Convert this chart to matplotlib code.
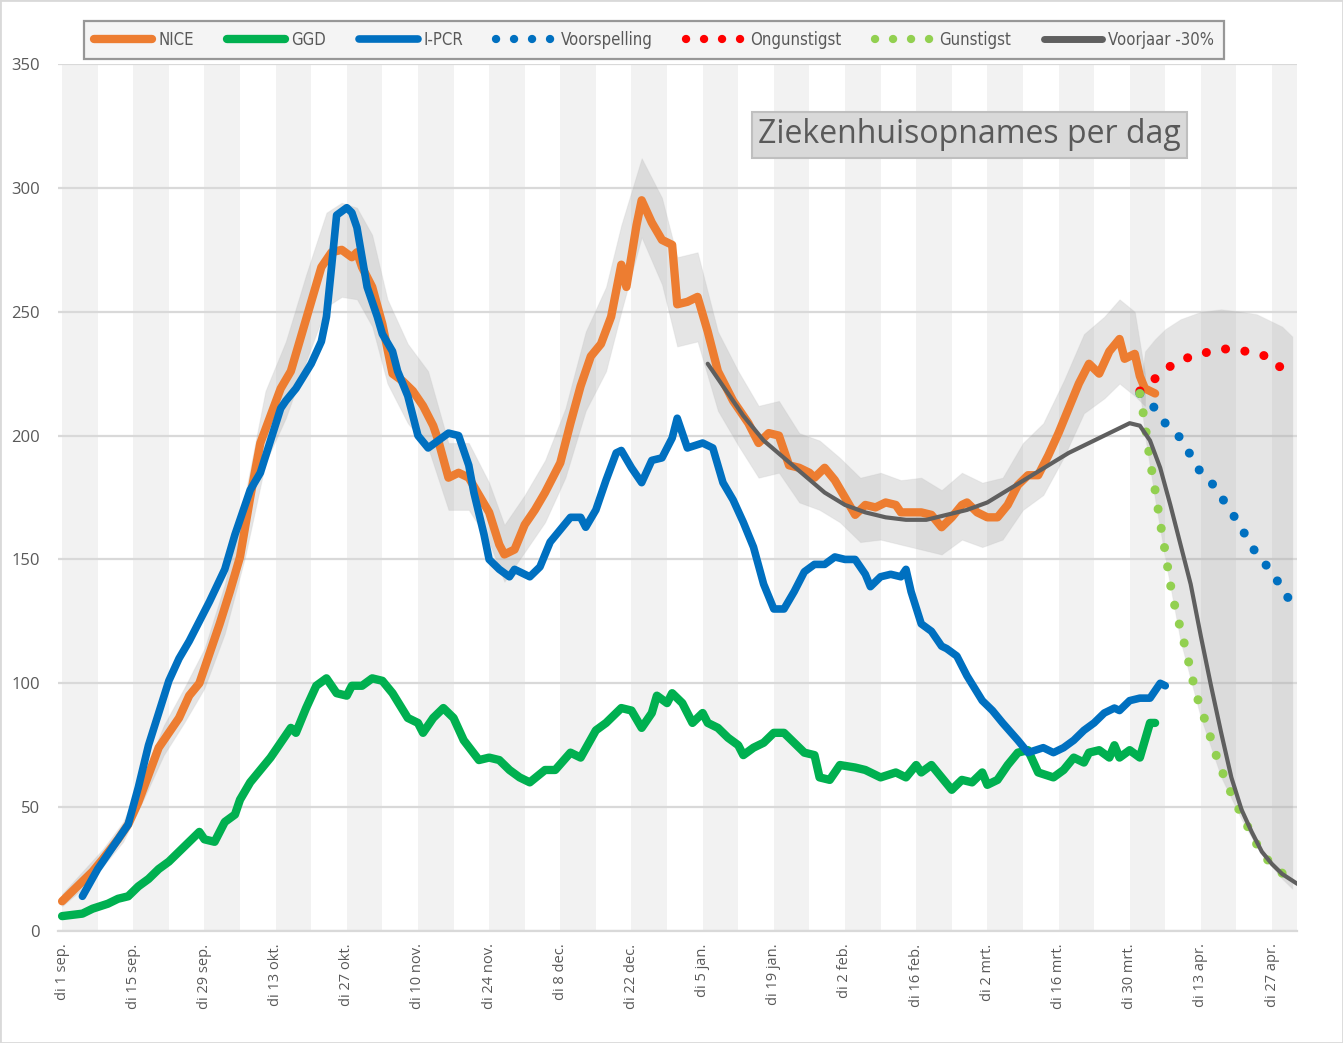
import numpy as np
import matplotlib.pyplot as plt
from matplotlib.lines import Line2D
from matplotlib.patches import Rectangle

# x = days since di 1 sep. 2020
tick_days = [0, 14, 28, 42, 56, 70, 84, 98, 112, 126, 140, 154, 168, 182, 196, 210, 224, 238]
tick_labels = ['di 1 sep.', 'di 15 sep.', 'di 29 sep.', 'di 13 okt.', 'di 27 okt.', 'di 10 nov.',
               'di 24 nov.', 'di 8 dec.', 'di 22 dec.', 'di 5 jan.', 'di 19 jan.', 'di 2 feb.',
               'di 16 feb.', 'di 2 mrt.', 'di 16 mrt.', 'di 30 mrt.', 'di 13 apr.', 'di 27 apr.']

# NICE opnames
nice_day = [0, 3, 6, 8, 11, 13, 15, 17, 19, 21, 23, 25, 27, 29, 31, 33, 35, 37, 39, 41,
            43, 45, 47, 49, 51, 53, 55, 57, 58, 59, 61, 63, 65, 67, 69, 71, 73, 74, 76, 78,
            80, 82, 84, 86, 87, 89, 91, 93, 95, 98, 100, 102, 104, 106, 108, 110, 111, 113, 114, 116,
            118, 120, 121, 123, 125, 127, 129, 132, 135, 137, 139, 141, 143, 145, 147, 148, 150, 152, 154, 156,
            158, 160, 162, 164, 165, 167, 169, 171, 173, 175, 177, 178, 180, 182, 184, 186, 188, 190, 192, 194,
            196, 198, 200, 202, 204, 206, 208, 209, 211, 212, 213, 215]
nice_val = [12, 18, 24, 29, 37, 43, 52, 63, 74, 80, 86, 95, 100, 112, 124, 137, 151, 175, 197, 208,
            219, 226, 240, 254, 268, 274, 275, 272, 274, 268, 260, 245, 225, 222, 218, 212, 204, 198, 183, 185,
            183, 176, 169, 156, 152, 154, 164, 170, 177, 189, 205, 220, 232, 237, 248, 269, 260, 285, 295, 286,
            279, 277, 253, 254, 256, 242, 226, 214, 205, 197, 201, 200, 188, 187, 185, 183, 187, 182, 175, 168,
            172, 171, 173, 172, 169, 169, 169, 168, 163, 167, 172, 173, 169, 167, 167, 172, 180, 184, 184, 192,
            201, 211, 221, 229, 225, 234, 239, 231, 233, 224, 219, 217]

# onzekerheidsband NICE
band_day = [0, 4, 8, 12, 16, 20, 24, 28, 32, 36, 40, 44, 48, 52, 55, 58, 61, 64, 68, 72,
            76, 80, 84, 87, 91, 95, 99, 103, 107, 110, 114, 118, 121, 125, 129, 133, 137, 141, 145, 149,
            153, 157, 161, 165, 169, 173, 177, 181, 185, 189, 193, 197, 201, 205, 208, 211, 213]
band_lo = [10, 17, 26, 36, 53, 71, 84, 98, 120, 151, 189, 207, 230, 252, 256, 255, 244, 221, 205, 195,
           170, 170, 157, 141, 153, 165, 183, 210, 226, 250, 280, 261, 236, 238, 210, 196, 183, 185, 173, 170,
           165, 157, 158, 156, 154, 152, 158, 155, 158, 170, 176, 191, 209, 215, 221, 216, 212]
band_hi = [15, 24, 33, 44, 63, 83, 98, 114, 140, 176, 218, 238, 265, 290, 294, 292, 281, 255, 237, 226,
           197, 197, 181, 164, 176, 190, 211, 242, 260, 285, 312, 296, 272, 274, 242, 226, 212, 214, 201, 198,
           191, 183, 185, 182, 183, 178, 185, 181, 183, 197, 205, 222, 241, 248, 255, 250, 225]

# GGD
ggd_day = [0, 4, 6, 9, 11, 13, 15, 17, 19, 21, 24, 26, 27, 28, 30, 32, 34, 35, 37, 39,
           41, 43, 45, 46, 48, 50, 52, 54, 56, 57, 59, 61, 63, 65, 68, 70, 71, 73, 75, 77,
           79, 82, 84, 86, 88, 90, 92, 95, 97, 100, 102, 105, 107, 110, 112, 114, 116, 117, 119, 120,
           122, 124, 126, 127, 129, 131, 133, 134, 136, 138, 140, 142, 144, 146, 148, 149, 151, 153, 156, 158,
           161, 164, 166, 168, 169, 171, 173, 175, 177, 179, 181, 182, 184, 186, 188, 190, 192, 195, 197, 199,
           201, 202, 204, 206, 207, 208, 210, 212, 214, 215]
ggd_val = [6, 7, 9, 11, 13, 14, 18, 21, 25, 28, 34, 38, 40, 37, 36, 44, 47, 53, 60, 65,
           70, 76, 82, 80, 90, 99, 102, 96, 95, 99, 99, 102, 101, 96, 86, 84, 80, 86, 90, 86,
           77, 69, 70, 69, 65, 62, 60, 65, 65, 72, 70, 81, 84, 90, 89, 82, 88, 95, 92, 96,
           92, 84, 88, 84, 82, 78, 75, 71, 74, 76, 80, 80, 76, 72, 71, 62, 61, 67, 66, 65,
           62, 64, 62, 67, 64, 67, 62, 57, 61, 60, 64, 59, 61, 67, 72, 73, 64, 62, 65, 70,
           68, 72, 73, 70, 75, 70, 73, 70, 84, 84]

# I-PCR
pcr_day = [4, 7, 9, 13, 15, 17, 19, 21, 23, 25, 27, 29, 32, 34, 37, 39, 41, 43, 44, 46,
           49, 51, 52, 53, 54, 56, 57, 58, 60, 62, 63, 65, 66, 68, 70, 72, 74, 76, 78, 80,
           81, 83, 84, 86, 88, 89, 91, 92, 94, 96, 98, 100, 102, 103, 105, 107, 109, 110, 112, 114,
           116, 118, 120, 121, 123, 126, 128, 130, 132, 134, 136, 138, 140, 142, 144, 146, 148, 150, 152, 154,
           156, 158, 159, 161, 163, 165, 166, 167, 169, 171, 173, 174, 176, 178, 181, 183, 185, 188, 190, 193,
           195, 197, 199, 201, 203, 205, 207, 208, 210, 212, 214, 216, 217]
pcr_val = [14, 25, 31, 43, 58, 75, 88, 101, 110, 117, 125, 133, 146, 160, 178, 185, 198, 211, 214, 219,
           229, 238, 248, 268, 289, 292, 290, 284, 260, 248, 241, 234, 226, 216, 200, 195, 198, 201, 200, 188,
           177, 160, 150, 146, 143, 146, 144, 143, 147, 157, 162, 167, 167, 163, 170, 182, 193, 194, 187, 181,
           190, 191, 199, 207, 195, 197, 195, 181, 174, 165, 155, 140, 130, 130, 137, 145, 148, 148, 151, 150,
           150, 144, 139, 143, 144, 143, 146, 137, 124, 121, 115, 114, 111, 103, 93, 89, 84, 77, 72, 74,
           72, 74, 77, 81, 84, 88, 90, 89, 93, 94, 94, 100, 99]

# Voorjaar -30%
vj_day = [127, 130, 134, 138, 142, 146, 150, 154, 158, 162, 166, 170, 174, 178, 182, 186, 190, 194, 198, 202,
          206, 210, 212, 214, 216, 218, 220, 222, 224, 226, 228, 230, 232, 234, 236, 238, 240, 243]
vj_val = [229, 220, 208, 198, 191, 184, 177, 172, 169, 167, 166, 166, 168, 170, 173, 178, 183, 188, 193, 197,
          201, 205, 204, 198, 187, 172, 156, 140, 119, 99, 80, 62, 49, 40, 32, 27, 23, 19]

# prognoses
vs_day = [212, 215, 217, 220, 222, 224, 227, 229, 231, 233, 235, 238, 240, 242]
vs_val = [217, 211, 205, 199, 192, 185, 179, 172, 166, 159, 152, 145, 138, 132]
og_day = [212, 215, 218, 222, 226, 229, 233, 237, 240, 242]
og_val = [218, 223, 228, 232, 234, 235, 234, 232, 227, 224]
gu_day = [212, 213, 214, 215, 216, 217, 218, 219, 220, 221, 223, 225, 227, 229, 231, 233, 235, 237, 239, 242]
gu_val = [217, 205, 190, 178, 165, 153, 140, 130, 122, 114, 96, 84, 71, 60, 51, 43, 35, 29, 25, 20]

# onzekerheid prognose
fan_day = [212, 213, 215, 217, 220, 224, 228, 232, 235, 238, 240, 242]
fan_lo = [218, 200, 174, 150, 117, 86, 62, 45, 34, 26, 21, 17]
fan_hi = [218, 234, 239, 243, 247, 250, 251, 250, 249, 246, 244, 240]

TXT = '#595959'
plt.rcParams['font.family'] = ['Open Sans', 'DejaVu Sans']

fig = plt.figure(figsize=(13.43, 10.43), dpi=100)
ax = fig.add_axes([0.0432, 0.1074, 0.9225, 0.8312])
ax.set_xlim(-0.8, 242.9)
ax.set_ylim(0, 350)

# weekbanden
for start in range(0, 243, 14):
    ax.axvspan(start, start + 7, color='#F2F2F2', lw=0, zorder=0)

ax.set_yticks(range(0, 351, 50))
ax.yaxis.grid(True, color='#D9D9D9', lw=1.6, zorder=1)
ax.set_axisbelow(True)
for s in ['left', 'right', 'top']:
    ax.spines[s].set_visible(False)
ax.spines['bottom'].set_color('#D9D9D9')
ax.spines['bottom'].set_linewidth(1.6)
ax.tick_params(length=0, colors=TXT)
ax.tick_params(axis='y', pad=13, labelsize=12)
ax.tick_params(axis='x', pad=9, labelsize=10.5)
ax.set_xticks(tick_days)
ax.set_xticklabels(tick_labels, rotation=90)

# banden
ax.fill_between(band_day, band_lo, band_hi, facecolor='#808080', alpha=0.2,
                edgecolor='#BFBFBF', lw=0.8, zorder=2)
ax.fill_between(fan_day, fan_lo, fan_hi, facecolor='#808080', alpha=0.2,
                edgecolor='#CCCCCC', lw=0.8, zorder=2)

dot = (0, (0.01, 2.15))
ax.plot(ggd_day, ggd_val, color='#00B050', lw=6, solid_capstyle='round', solid_joinstyle='round', zorder=3)
ax.plot(nice_day, nice_val, color='#ED7D31', lw=6, solid_capstyle='round', solid_joinstyle='round', zorder=4)
ax.plot(pcr_day, pcr_val, color='#0070C0', lw=5.5, solid_capstyle='round', solid_joinstyle='round', zorder=5)
ax.plot(og_day, og_val, color='#FF0000', lw=6.5, ls=dot, dash_capstyle='round', zorder=6)
ax.plot(vs_day, vs_val, color='#0070C0', lw=6.5, ls=dot, dash_capstyle='round', zorder=6)
ax.plot(gu_day, gu_val, color='#92D050', lw=6.5, ls=dot, dash_capstyle='round', zorder=6.5)
ax.plot(vj_day, vj_val, color='#5F5F5F', lw=3, solid_capstyle='round', zorder=7)

handles = [
    Line2D([], [], color='#ED7D31', lw=6, solid_capstyle='round'),
    Line2D([], [], color='#00B050', lw=6, solid_capstyle='round'),
    Line2D([], [], color='#0070C0', lw=5.5, solid_capstyle='round'),
    Line2D([], [], color='#0070C0', lw=6, ls=dot, dash_capstyle='round'),
    Line2D([], [], color='#FF0000', lw=6, ls=dot, dash_capstyle='round'),
    Line2D([], [], color='#92D050', lw=6, ls=dot, dash_capstyle='round'),
    Line2D([], [], color='#5F5F5F', lw=5, solid_capstyle='round'),
]
labels = ['NICE', 'GGD', 'I-PCR', 'Voorspelling', 'Ongunstigst', 'Gunstigst', 'Voorjaar -30%']
leg = fig.legend(handles, labels, loc='center', bbox_to_anchor=(0.487, 0.962), ncol=7,
                 frameon=True, fancybox=False, handlelength=3.5, handletextpad=0.35,
                 columnspacing=2.0, borderpad=0.6,
                 prop={'family': 'DejaVu Sans', 'stretch': 'condensed', 'size': 12})
leg.get_frame().set_facecolor('#F2F2F2')
leg.get_frame().set_edgecolor('#7F7F7F')
leg.get_frame().set_linewidth(1.6)
for t in leg.get_texts():
    t.set_color(TXT)

fig.text(0.722, 0.8706, 'Ziekenhuisopnames per dag', ha='center', va='center', fontsize=23, color=TXT,
         bbox=dict(boxstyle='square,pad=0.2', facecolor='#D9D9D9', edgecolor='#BFBFBF', lw=1.5))

fig.patches.append(Rectangle((0, 0), 1, 1, transform=fig.transFigure, fill=False,
                             edgecolor='#D9D9D9', lw=2))

fig.savefig('out.png', dpi=100)
